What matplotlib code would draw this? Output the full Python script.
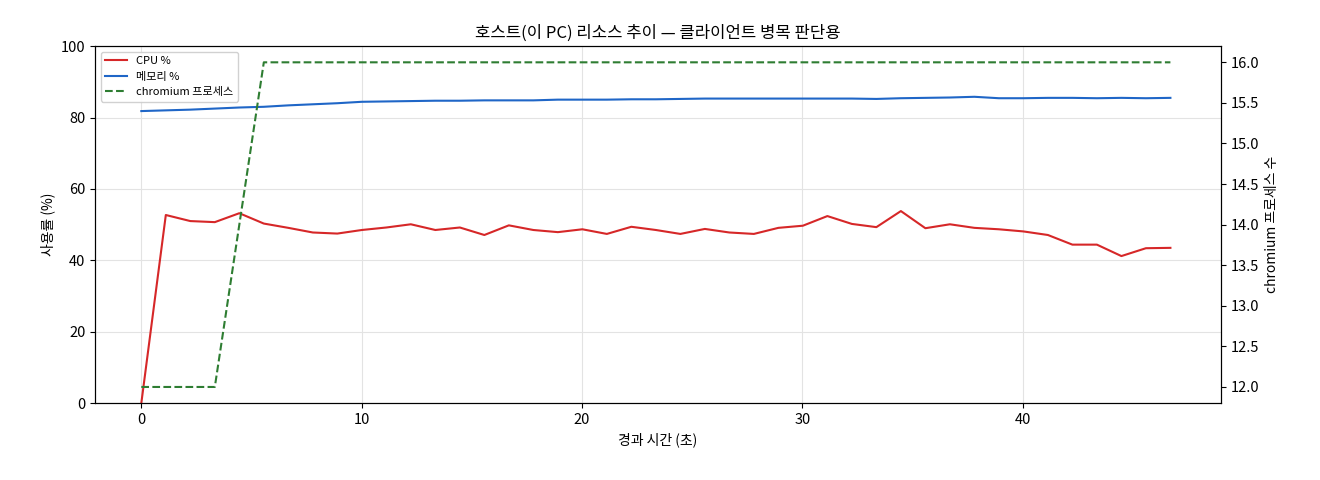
import matplotlib
matplotlib.use("Agg")
import matplotlib.pyplot as plt
import numpy as np

plt.rcParams['font.family'] = ['Noto Sans CJK KR', 'DejaVu Sans']
plt.rcParams['axes.unicode_minus'] = False

dt = 1.112
cpu = [0, 52.7, 51.0, 50.7, 53.2, 50.3, 49.1, 47.8, 47.5, 48.5, 49.2, 50.1, 48.5, 49.2, 47.1,
       49.8, 48.5, 47.9, 48.7, 47.4, 49.4, 48.5, 47.4, 48.8, 47.8, 47.4, 49.1, 49.7, 52.4,
       50.2, 49.3, 53.8, 49.0, 50.1, 49.1, 48.7, 48.1, 47.1, 44.4, 44.4, 41.2, 43.4, 43.5]
mem = [81.8, 82.0, 82.2, 82.5, 82.8, 83.0, 83.4, 83.7, 84.0, 84.4, 84.5, 84.6, 84.7, 84.7, 84.8,
       84.8, 84.8, 85.0, 85.0, 85.0, 85.1, 85.1, 85.2, 85.3, 85.3, 85.3, 85.3, 85.3, 85.3,
       85.3, 85.2, 85.4, 85.5, 85.6, 85.8, 85.4, 85.4, 85.5, 85.5, 85.4, 85.5, 85.4, 85.5]
proc = [12, 12, 12, 12, 14] + [16] * 38
t = np.arange(len(cpu)) * dt

fig, ax = plt.subplots(figsize=(13.2, 4.8), dpi=100)
fig.subplots_adjust(left=0.072, right=0.925, top=0.904, bottom=0.16)
l1, = ax.plot(t, cpu, color='#d62728', lw=1.5, label='CPU %')
l2, = ax.plot(t, mem, color='#1f66c7', lw=1.5, label='메모리 %')
ax.set_ylim(0, 100)
ax.set_xlim(-2.1, 49.0)
ax.grid(True, color='#e3e3e3', lw=0.8)
ax.set_xlabel('경과 시간 (초)', fontsize=10)
ax.set_ylabel('사용률 (%)', fontsize=10)
ax.set_title('호스트(이 PC) 리소스 추이 — 클라이언트 병목 판단용', fontsize=12)
ax2 = ax.twinx()
l3, = ax2.plot(t, proc, color='#2e7d32', lw=1.5, ls='--', label='chromium 프로세스')
ax2.set_ylabel('chromium 프로세스 수', fontsize=10)
ax.legend(handles=[l1, l2, l3], loc='upper left', fontsize=8, framealpha=0.9)
for a in (ax, ax2):
    a.tick_params(labelsize=10.5)
fig.savefig('out.png')
